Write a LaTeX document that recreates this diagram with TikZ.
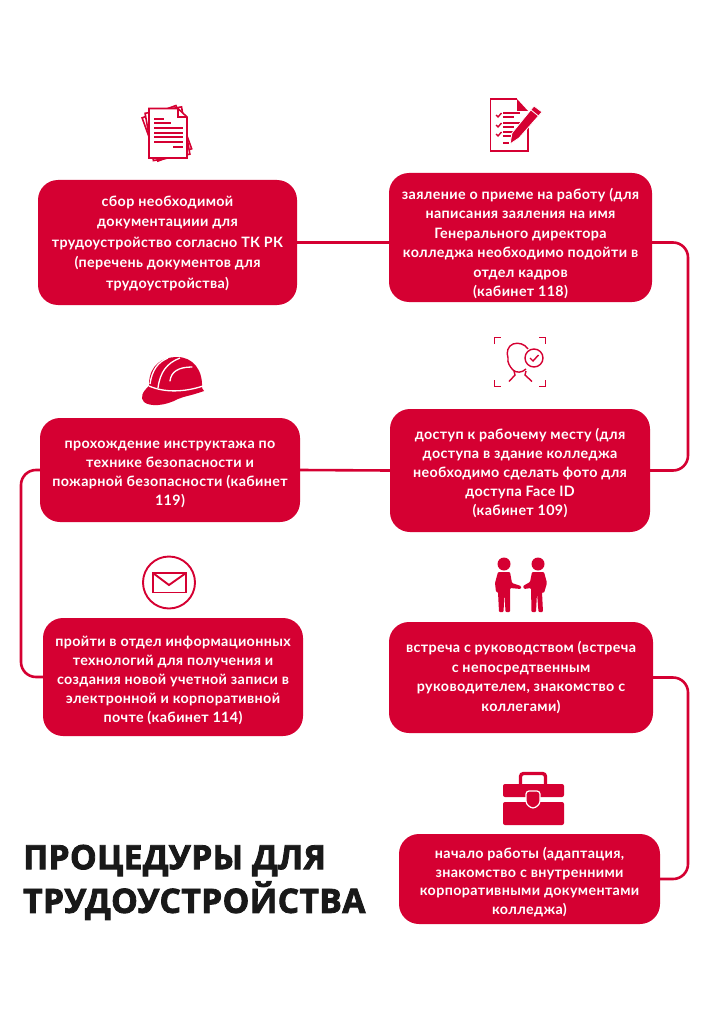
\documentclass[tikz,border=0pt]{standalone}
\usepackage{fontspec}
\setmainfont{Lato}[LetterSpace=2.5]
\newfontfamily\titlefont{Open Sans}[BoldFeatures={FakeBold=2.5},LetterSpace=1.3]
\definecolor{crimson}{HTML}{D50032}
\newcommand{\toppad}[1]{\rule{0pt}{#1pt}}
\tikzset{
  stepbox/.style={fill=crimson,text=white,rounded corners=20pt,align=center,inner sep=0pt},
  leading/.style={font=\fontsize{14.3}{#1}\selectfont\bfseries},
  link/.style={draw=crimson,line width=2.6pt,rounded corners=15pt},
  headline/.style={anchor=west,inner sep=0pt,text=black!90,font=\fontsize{33.5}{40}\selectfont\titlefont\bfseries},
  iconline/.style={draw=crimson,line width=1.6pt},
  cutline/.style={draw=white,line width=1.3pt},
}
\begin{document}
\begin{tikzpicture}[x=1pt,y=-1pt]
\useasboundingbox (0,0) rectangle (724,1024);
\fill[white] (0,0) rectangle (724,1024);
% Boxes
\node[stepbox,leading=20.5,minimum width=259pt,minimum height=125pt] (collect) at (167.5,242.5) {\toppad{12}сбор необходимой\\документациии для\\трудоустройство согласно ТК РК\\(перечень документов для\\трудоустройства)};
\node[stepbox,leading=19.5,minimum width=263pt,minimum height=129pt] (apply) at (520.5,237.5) {\toppad{23}заяление о приеме на работу (для\\написания заяления на имя\\Генерального директора\\колледжа необходимо подойти в\\отдел кадров\\(кабинет 118)};
\node[stepbox,leading=19,minimum width=260pt,minimum height=123pt] (access) at (520,470.5) {\toppad{17}доступ к рабочему месту (для\\доступа в здание колледжа\\необходимо сделать фото для\\доступа Face ID\\(кабинет 109)};
\node[stepbox,leading=19,minimum width=260pt,minimum height=104pt] (safety) at (170,470) {\toppad{17}прохождение инструктажа по\\технике безопасности и\\пожарной безопасности (кабинет\\119)};
\node[stepbox,leading=19,minimum width=260pt,minimum height=118pt] (mail) at (173,677) {\toppad{17}пройти в отдел информационных\\технологий для получения и\\создания новой учетной записи в\\электронной и корпоративной\\почте (кабинет 114)};
\node[stepbox,leading=19.5,minimum width=264pt,minimum height=111pt] (meet) at (521,677.5) {встреча с руководством (встреча\\с непосредтвенным\\руководителем, знакомство с\\коллегами)};
\node[stepbox,leading=18.5,minimum width=261pt,minimum height=90pt] (start) at (529.5,879) {\toppad{17}начало работы (адаптация,\\знакомство с внутренними\\корпоративными документами\\колледжа)};
% Title
\node[headline] (title1) at (23,860.5) {ПРОЦЕДУРЫ ДЛЯ};
\node[headline] (title2) at (23,900.5) {ТРУДОУСТРОЙСТВА};
% Connectors
\coordinate (railtop) at (688,350);
\coordinate (railleft) at (21,570);
\coordinate (railbot) at (688,780);
\draw[link] (collect.east) -- (apply.west |- collect.east);
\draw[link] (apply.east |- collect.east) -| (railtop) |- (access.east);
\draw[link] (access.west) -- (safety.east);
\draw[link] (safety.west) -| (railleft) |- (mail.west);
\draw[link] (meet.east) -| (railbot) |- (start.east);
% Documents icon
\begin{scope}[iconline]
\draw[fill=white,rotate around={20:(165,134)}] (149,111) rectangle (185,157);
\draw[fill=white,rotate around={10:(166,134)}] (149,110) rectangle (186,158);
\draw[fill=white] (149,108.5) -- (178,108.5) -- (187,117) -- (187,158) -- (149,158) -- cycle;
\draw[line width=1.1pt] (178,108.5) -- (178,117) -- (187,117);
\foreach \y/\a/\b in {119/154/164,123/154/171,128/154/183,133/154/183,137/154/183,142/154/183,147/173/183}
  \draw (\a,\y) -- (\b,\y);
\end{scope}
% Form icon
\begin{scope}[iconline,line width=1.4pt]
\draw (517,99) -- (490.5,99) -- (490.5,151) -- (528,151) -- (528,122);
\fill[crimson] (517,99) -- (528,111) -- (517,111) -- cycle;
\foreach \y in {115,125,134}{
  \draw (496,\y) -- (498,\y+2) -- (501.5,\y-2);
  \draw (503,\y-2) -- (520,\y-2);
  \draw (503,\y+2) -- (514,\y+2);
}
\draw (503,143) -- (509,143);
\end{scope}
\fill[crimson,draw=white,line width=0.8pt] (510,144) -- (512,133) -- (534,106) -- (542,112) -- (519,138) -- cycle;
\draw[white,line width=0.8pt] (531,110) -- (538.5,116);
% Helmet icon
\fill[crimson] (149,383) .. controls (150,365) and (162,357) .. (177,357) .. controls (193,357) and (203,370) .. (202,388) -- (204,391) .. controls (190,396) and (185,396) .. (178,399) .. controls (165,406) and (150,407) .. (144,402) .. controls (140,398) and (142,392) .. (149,386) -- cycle;
\draw[cutline] (149,386) .. controls (165,393) and (185,392) .. (203,386);
\draw[cutline] (150,384) .. controls (152,370) and (158,362) .. (168,358);
\draw[cutline] (158,388) .. controls (160,372) and (167,363) .. (180,358);
\draw[cutline,line cap=round] (170,381) .. controls (171,372) and (178,367) .. (192,367);
% Face ID icon
\begin{scope}[iconline,line width=1.4pt]
\draw (494.5,344) -- (494.5,337.5) -- (501,337.5);
\draw (539,337.5) -- (545.5,337.5) -- (545.5,344);
\draw (494.5,380) -- (494.5,386.5) -- (501,386.5);
\draw (539,386.5) -- (545.5,386.5) -- (545.5,380);
\draw (528,349) .. controls (525,344) and (518,342) .. (513,344) .. controls (508,346) and (506,352) .. (508,358) .. controls (507,362) and (510,367) .. (513,370) .. controls (516,373) and (522,373) .. (526,369);
\draw (514,371) -- (515,375) -- (509,381.5);
\draw (526,371) -- (525,375) -- (532,381.5);
\draw (534,358) circle (9);
\draw (530,358) -- (533,361) -- (538.5,355);
\end{scope}
% Envelope icon
\begin{scope}[iconline,line width=1.9pt]
\draw (169,582.5) circle (26);
\draw (153,573) rectangle (186,592.5);
\draw (153,573) -- (169,585) -- (186,573);
\end{scope}
% People icon
\fill[crimson] (504,564) circle (6.5) (538,564) circle (6.5);
\fill[crimson,rounded corners=1pt] (498,572) -- (510,572) -- (512,583) -- (521,586) -- (521,589) -- (510,588) -- (510,612) -- (505.5,612) -- (504.5,593) -- (503.5,612) -- (499,612) -- (498,592) -- (496,592) -- (495,583) -- cycle;
\fill[crimson,rounded corners=1pt] (532,572) -- (544,572) -- (547,583) -- (544,593) -- (542,592) -- (543,612) -- (538.5,612) -- (537,593) -- (536,612) -- (531.5,612) -- (531,588) -- (524,589) -- (523,586) -- (530,582) -- cycle;
% Briefcase icon
\draw[crimson,line width=3.4pt,rounded corners=3pt] (520.5,784) -- (520.5,773.5) -- (545.5,773.5) -- (545.5,784);
\fill[crimson,rounded corners=2pt] (503,784) -- (564,784) -- (564,797) -- (503,797) -- cycle;
\fill[crimson,rounded corners=2pt] (503,802) -- (564,802) -- (564,825) -- (503,825) -- cycle;
\fill[crimson,draw=white,line width=1.2pt,rounded corners=3pt] (526,791) -- (540,791) -- (540,804) -- (533,809) -- (526,804) -- cycle;
\end{tikzpicture}
\end{document}
